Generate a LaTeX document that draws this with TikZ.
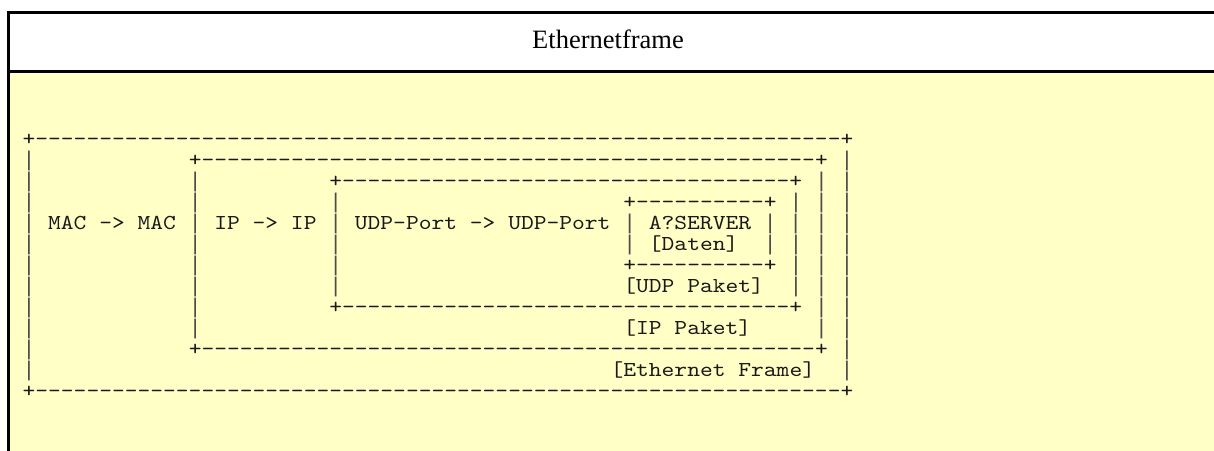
\documentclass[tikz,border=0pt]{standalone}
\usepackage{fontspec}
\setmainfont{Liberation Serif}
\setmonofont{lmmono10-regular.otf}[FakeStretch=1.1429]
\newfontfamily\barfont{Liberation Mono}
\definecolor{notebg}{RGB}{255,255,198}
\newdimen\charw
\charw=12.782pt
\newcommand\Sp[1]{\kern#1\charw}
\newcommand\Dsh[1]{\foreach\k in {1,...,#1}{-}}
\newcommand\B{{\barfont\color{black!70}|}}
\tikzset{
  asc/.style={anchor=base west, inner sep=0pt, outer sep=0pt,
    font=\ttfamily\fontsize{21.3}{21}\selectfont, text=black!90},
  titletext/.style={anchor=base, inner sep=0pt,
    font=\rmfamily\fontsize{26.5}{30}\selectfont, text=black},
  frameline/.style={line width=3pt, draw=black}
}
\begin{document}
\begin{tikzpicture}[x=1pt,y=-1pt]
\useasboundingbox (0,0) rectangle (1214,450);
\fill[white] (0,0) rectangle (1214,450);
\fill[notebg] (8.7,71.3) rectangle (1220,456);
\draw[frameline] (1220,12.5) -- (8.7,12.5) -- (8.7,456);
\draw[frameline] (8.7,71.3) -- (1220,71.3);
\node[titletext] (title) at (608,48.3) {Ethernetframe};
\node[asc] (row0) at (22.6,145) {+\Dsh{63}+};
\node[asc] (row1) at (22.6,166) {\B\Sp{12}+\Dsh{48}+\Sp{1}\B};
\node[asc] (row2) at (22.6,187) {\B\Sp{12}\B\Sp{10}+\Dsh{35}+\Sp{1}\B\Sp{1}\B};
\node[asc] (row3) at (22.6,208) {\B\Sp{12}\B\Sp{10}\B\Sp{22}+\Dsh{10}+\Sp{1}\B\Sp{1}\B\Sp{1}\B};
\node[asc] (row4) at (22.6,229) {\B\Sp{1}MAC -> MAC\Sp{1}\B\Sp{1}IP -> IP\Sp{1}\B\Sp{1}UDP-Port -> UDP-Port\Sp{1}\B\Sp{1}A?SERVER\Sp{1}\B\Sp{1}\B\Sp{1}\B\Sp{1}\B};
\node[asc] (row5) at (22.6,250) {\B\Sp{12}\B\Sp{10}\B\Sp{22}\B\Sp{1}[Daten]\Sp{2}\B\Sp{1}\B\Sp{1}\B\Sp{1}\B};
\node[asc] (row6) at (22.6,271) {\B\Sp{12}\B\Sp{10}\B\Sp{22}+\Dsh{10}+\Sp{1}\B\Sp{1}\B\Sp{1}\B};
\node[asc] (row7) at (22.6,292) {\B\Sp{12}\B\Sp{10}\B\Sp{22}[UDP Paket]\Sp{2}\B\Sp{1}\B\Sp{1}\B};
\node[asc] (row8) at (22.6,313) {\B\Sp{12}\B\Sp{10}+\Dsh{35}+\Sp{1}\B\Sp{1}\B};
\node[asc] (row9) at (22.6,334) {\B\Sp{12}\B\Sp{33}[IP Paket]\Sp{5}\B\Sp{1}\B};
\node[asc] (row10) at (22.6,355) {\B\Sp{12}+\Dsh{48}+\Sp{1}\B};
\node[asc] (row11) at (22.6,376) {\B\Sp{45}[Ethernet Frame]\Sp{2}\B};
\node[asc] (row12) at (22.6,397) {+\Dsh{63}+};
\end{tikzpicture}
\end{document}
